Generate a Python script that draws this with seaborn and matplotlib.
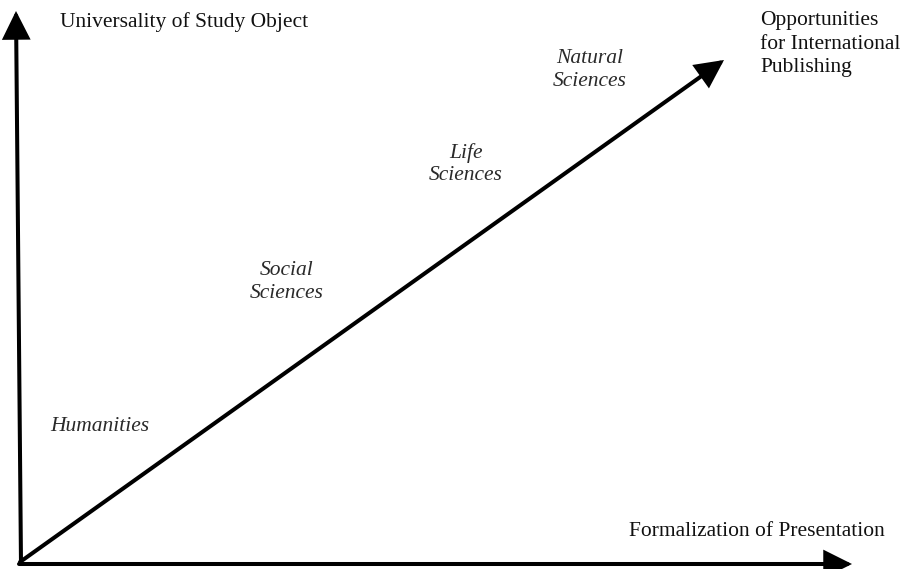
import matplotlib
matplotlib.use("Agg")
import matplotlib.pyplot as plt
import seaborn as sns

sns.set_style("white")
plt.rcParams['font.family'] = ['Liberation Serif', 'DejaVu Serif']

# Arrow endpoints (start -> end) in pixel-like diagram coordinates
arrow_names = ["vertical", "horizontal", "diagonal"]
arrow_x0 = [21, 19, 20]
arrow_y0 = [564, 564, 562]
arrow_x1 = [16, 852, 724]
arrow_y1 = [11, 564, 60]

# Discipline labels along the diagonal
disciplines = ["Humanities", "Social\nSciences", "Life\nSciences", "Natural\nSciences"]
disc_x = [100, 287, 466, 590]
disc_y = [426, 282, 164, 70]

axis_labels = ["Universality of Study Object", "Formalization of Presentation",
               "Opportunities\nfor International\nPublishing"]

fig = plt.figure(figsize=(9.05, 5.69), dpi=100)
ax = fig.add_axes([0, 0, 1, 1])
ax.set_xlim(0, 905)
ax.set_ylim(569, 0)
ax.axis("off")

for name, x0, y0, x1, y1 in zip(arrow_names, arrow_x0, arrow_y0, arrow_x1, arrow_y1):
    ax.annotate("", xy=(x1, y1), xytext=(x0, y0),
                arrowprops=dict(arrowstyle="-|>,head_length=0.8,head_width=0.4",
                                mutation_scale=20, lw=2.9, color="black",
                                shrinkA=0, shrinkB=0, joinstyle="miter"))

for lab, x, y in zip(disciplines, disc_x, disc_y):
    ax.text(x, y, lab, ha="center", va="center", fontsize=15.5, style="italic",
            linespacing=1.25, color="#2a2a2a")

ax.text(60, 22, axis_labels[0], ha="left", va="center", fontsize=15.5, color="#111111")
ax.text(885, 531, axis_labels[1], ha="right", va="center", fontsize=15.5, color="#111111")
ax.text(760, 44, axis_labels[2], ha="left", va="center", fontsize=15.5,
        linespacing=1.33, color="#111111")

fig.savefig("out.png", dpi=100)
